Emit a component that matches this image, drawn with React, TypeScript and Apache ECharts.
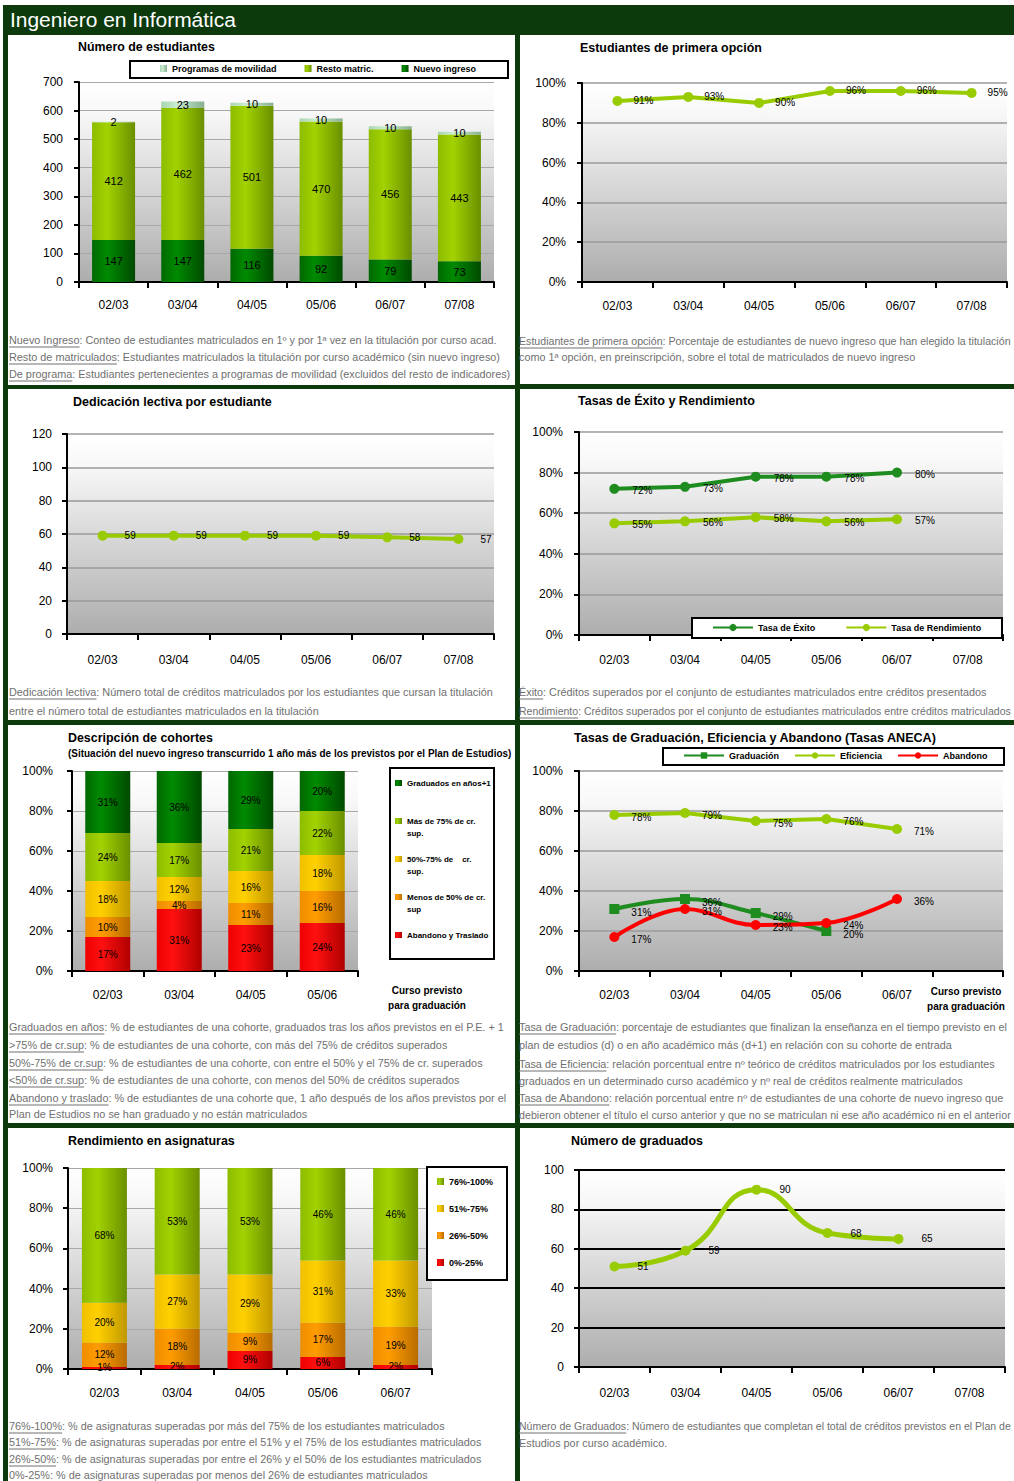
import React, { useEffect, useRef } from "react";
import * as echarts from "echarts";

const FONT = "'Liberation Sans', Arial, Helvetica, sans-serif";
const DARK = "#0c3a0c";
const NOTE_GRAY = "#707070";

// ---------- DATA ----------
const YEARS6 = ["02/03", "03/04", "04/05", "05/06", "06/07", "07/08"];
const YEARS5 = ["02/03", "03/04", "04/05", "05/06", "06/07"];
const COHORTES = ["02/03", "03/04", "04/05", "05/06"];
const CURSOS6 = ["02/03", "03/04", "04/05", "05/06", "06/07", ""];

// Número de estudiantes
const NUEVO_INGRESO = [147, 147, 116, 92, 79, 73];
const RESTO_MATRIC = [412, 462, 501, 470, 456, 443];
const MOVILIDAD = [2, 23, 10, 10, 10, 10];
// Estudiantes de primera opción (%)
const PRIMERA_OPCION = [91, 93, 90, 96, 96, 95];
// Dedicación lectiva
const DEDICACION = [59, 59, 59, 59, 58, 57];
// Tasas de éxito y rendimiento (%)
const EXITO = [72, 73, 78, 78, 80];
const RENDIMIENTO = [55, 56, 58, 56, 57];
// Descripción de cohortes (%)
const ABANDONO_TRASLADO = [17, 31, 23, 24];
const MENOS_50 = [10, 4, 11, 16];
const ENTRE_50_75 = [18, 12, 16, 18];
const MAS_75 = [24, 17, 21, 22];
const GRADUADOS_A1 = [31, 36, 29, 20];
// Tasas ANECA (%)
const GRADUACION = [31, 36, 29, 20];
const EFICIENCIA = [78, 79, 75, 76, 71];
const ABANDONO = [17, 31, 23, 24, 36];
// Rendimiento en asignaturas (%)
const R_0_25 = [1, 2, 9, 6, 2];
const R_26_50 = [12, 18, 9, 17, 19];
const R_51_75 = [20, 27, 29, 31, 33];
const R_76_100 = [68, 53, 53, 46, 46];
// Número de graduados
const GRADUADOS = [51, 59, 90, 68, 65];

// ---------- TEXTS ----------
const MAIN_TITLE = "Ingeniero en Informática";
const TITLES = [
  "Número de estudiantes",
  "Estudiantes de primera opción",
  "Dedicación lectiva por estudiante",
  "Tasas de Éxito y Rendimiento",
  "Descripción de cohortes",
  "Tasas de Graduación, Eficiencia y Abandono (Tasas ANECA)",
  "Rendimiento en asignaturas",
  "Número de graduados",
];
const SUBTITLE_5 = "(Situación del nuevo ingreso transcurrido 1 año más de los previstos por el Plan de Estudios)";
const CURSO_PREVISTO = ["Curso previsto", "para graduación"];

const LEG1 = ["Programas de movilidad", "Resto matric.", "Nuevo ingreso"];
const LEG4 = ["Tasa de Éxito", "Tasa de Rendimiento"];
const LEG5 = ["Graduados en años+1", "Más de 75% de cr. sup.", "50%-75% de cr. sup.", "Menos de 50% de cr. sup", "Abandono y Traslado"];
const LEG5_LINES: Record<string, string[]> = {
  "Graduados en años+1": ["Graduados en años+1"],
  "Más de 75% de cr. sup.": ["Más de 75% de cr.", "sup."],
  "50%-75% de cr. sup.": ["50%-75% de    cr.", "sup."],
  "Menos de 50% de cr. sup": ["Menos de 50% de cr.", "sup"],
  "Abandono y Traslado": ["Abandono y Traslado"],
};
const LEG6 = ["Graduación", "Eficiencia", "Abandono"];
const LEG7 = ["76%-100%", "51%-75%", "26%-50%", "0%-25%"];

const NOTES_1 = [
  ["Nuevo Ingreso", ": Conteo de estudiantes matriculados en 1º y por 1ª vez en la titulación por curso acad."],
  ["Resto de matriculados", ": Estudiantes matriculados la titulación por curso académico (sin nuevo ingreso)"],
  ["De programa", ": Estudiantes pertenecientes a programas de movilidad (excluidos del resto de indicadores)"],
];
const NOTES_2 = [
  ["Estudiantes de primera opción", ": Porcentaje de estudiantes de nuevo ingreso que han elegido la titulación"],
  ["", "como 1ª opción, en preinscripción, sobre el total de matriculados de nuevo ingreso"],
];
const NOTES_3 = [
  ["Dedicación lectiva", ": Número total de créditos matriculados por los estudiantes que cursan la titulación"],
  ["", "entre el número total de estudiantes matriculados en la titulación"],
];
const NOTES_4 = [
  ["Éxito", ": Créditos superados por el conjunto de estudiantes matriculados entre créditos presentados"],
  ["Rendimiento", ": Créditos superados por el conjunto de estudiantes matriculados entre créditos matriculados"],
];
const NOTES_5 = [
  ["Graduados en años", ": % de estudiantes de una cohorte, graduados tras los años previstos en el P.E. + 1"],
  [">75% de cr.sup", ": % de estudiantes de una cohorte, con más del 75% de créditos superados"],
  ["50%-75% de cr.sup", ": % de estudiantes de una cohorte, con entre el 50% y el 75% de cr. superados"],
  ["<50% de cr.sup", ": % de estudiantes de una cohorte, con menos del 50% de créditos superados"],
  ["Abandono y traslado", ": % de estudiantes de una cohorte que, 1 año después de los años previstos por el"],
  ["", "Plan de Estudios no se han graduado y no están matriculados"],
];
const NOTES_6 = [
  ["Tasa de Graduación", ": porcentaje de estudiantes que finalizan la enseñanza en el tiempo previsto en el"],
  ["", "plan de estudios (d) o en año académico más (d+1) en relación con su cohorte de entrada"],
  ["Tasa de Eficiencia", ": relación porcentual entre nº teórico de créditos matriculados por los estudiantes"],
  ["", "graduados en un determinado curso académico y nº real de créditos realmente matriculados"],
  ["Tasa de Abandono", ": relación porcentual entre nº de estudiantes de una cohorte de nuevo ingreso que"],
  ["", "debieron obtener el título el curso anterior y que no se matriculan ni ese año académico ni en el anterior"],
];
const NOTES_7 = [
  ["76%-100%", ": % de asignaturas superadas por más del 75% de los estudiantes matriculados"],
  ["51%-75%", ": % de asignaturas superadas por entre el 51% y el 75% de los estudiantes matriculados"],
  ["26%-50%", ": % de asignaturas superadas por entre el 26% y el 50% de los estudiantes matriculados"],
  ["0%-25%", ": % de asignaturas superadas por menos del 26% de estudiantes matriculados"],
];
const NOTES_8 = [
  ["Número de Graduados", ": Número de estudiantes que completan el total de créditos previstos en el Plan de"],
  ["", "Estudios por curso académico."],
];

// ---------- helpers ----------
let measureCtx: CanvasRenderingContext2D | null = null;
function textWidth(t: string, font: string): number {
  if (!measureCtx) measureCtx = document.createElement("canvas").getContext("2d");
  if (!measureCtx) return t.length * 5;
  measureCtx.font = font;
  return measureCtx.measureText(t).width;
}

function hGrad(l: string, m: string, r: string) {
  return new echarts.graphic.LinearGradient(0, 0, 1, 0, [
    { offset: 0, color: l },
    { offset: 0.35, color: m },
    { offset: 1, color: r },
  ]);
}
function plotBg() {
  return new echarts.graphic.LinearGradient(0, 0, 0, 1, [
    { offset: 0, color: "#ffffff" },
    { offset: 0.15, color: "#f8f8f8" },
    { offset: 1, color: "#adadad" },
  ]);
}

function buildOption() {
  const C_DKGREEN = hGrad("#006800", "#008a00", "#004a00");
  const C_LTGREEN = hGrad("#8cbc00", "#a2d200", "#6a8f00");
  const C_MINT = hGrad("#a8d4b0", "#c8ecd0", "#88b090");
  const C_YELLOW = hGrad("#f0c000", "#ffd000", "#c09800");
  const C_ORANGE = hGrad("#ee8e00", "#ff9c00", "#b86c00");
  const C_RED = hGrad("#ee0000", "#ff1010", "#b00000");
  const LINE_LIGHT = "#99cc00";
  const LINE_GREEN = "#1e8c1e";
  const LINE_RED = "#ff0000";

  const grids = [
    { left: 79, top: 82, width: 415, height: 200 },
    { left: 582, top: 83, width: 425, height: 199 },
    { left: 67, top: 434, width: 427, height: 200 },
    { left: 579, top: 432, width: 424, height: 203 },
    { left: 72, top: 771, width: 286, height: 200 },
    { left: 579, top: 771, width: 424, height: 200 },
    { left: 68, top: 1168, width: 364, height: 201 },
    { left: 579, top: 1170, width: 426, height: 197 },
  ].map((g) => ({ ...g, show: true, backgroundColor: plotBg(), borderWidth: 0, containLabel: false }));

  const xAx = (gi: number, data: string[], margin: number) => ({
    type: "category",
    gridIndex: gi,
    data,
    axisLine: { show: true, lineStyle: { color: "#000", width: 2 } },
    axisTick: { show: true, length: 6, lineStyle: { color: "#000", width: 2 } },
    axisLabel: { color: "#000", fontSize: 12, fontFamily: FONT, margin },
    splitLine: { show: false },
  });
  const yAx = (gi: number, max: number, interval: number, pct: boolean, margin: number, split = "#9a9a9a", sw = 1) => ({
    type: "value",
    gridIndex: gi,
    min: 0,
    max,
    interval,
    axisLine: { show: true, lineStyle: { color: "#000", width: 2 } },
    axisTick: { show: true, length: 5, lineStyle: { color: "#000", width: 2 } },
    axisLabel: { color: "#000", fontSize: 12, fontFamily: FONT, margin, formatter: pct ? "{value}%" : "{value}" },
    splitLine: { show: true, lineStyle: { color: split, width: sw } },
  });

  const xAxis = [
    xAx(0, YEARS6, 17),
    xAx(1, YEARS6, 18),
    xAx(2, YEARS6, 20),
    xAx(3, YEARS6, 19),
    xAx(4, COHORTES, 18),
    xAx(5, CURSOS6, 18),
    xAx(6, YEARS5, 18),
    xAx(7, YEARS6, 20),
  ];
  const yAxis = [
    yAx(0, 700, 100, false, 16, "#a8a8a8"),
    yAx(1, 100, 20, true, 16, "#9a9a9a", 1.5),
    yAx(2, 120, 20, false, 15, "#9a9a9a", 1.5),
    yAx(3, 100, 20, true, 16, "#9a9a9a", 1.5),
    yAx(4, 100, 20, true, 19, "#a8a8a8"),
    yAx(5, 100, 20, true, 16, "#9a9a9a", 1.5),
    yAx(6, 100, 20, true, 15, "#a8a8a8"),
    yAx(7, 100, 20, false, 15, "#000", 2),
  ];

  const lbl = (fs: number, pct: boolean) => ({
    show: true,
    position: "inside",
    color: "#000",
    fontSize: fs,
    fontFamily: FONT,
    formatter: pct ? "{c}%" : "{c}",
  });
  const bar = (name: string, idx: number, data: number[], color: any, stack: string, barWidth: number, pct: boolean, fs = 10) => ({
    type: "bar",
    name,
    xAxisIndex: idx,
    yAxisIndex: idx,
    data,
    stack,
    barWidth,
    itemStyle: { color },
    label: lbl(fs, pct),
    emphasis: { disabled: true },
  });
  const line = (
    name: string,
    idx: number,
    data: number[],
    color: string,
    opts: { pct?: boolean; dist?: number; smooth?: any; symbol?: string; width?: number; size?: number; dy?: number } = {}
  ) => ({
    type: "line",
    name,
    xAxisIndex: idx,
    yAxisIndex: idx,
    data,
    smooth: opts.smooth ?? false,
    symbol: opts.symbol ?? "circle",
    symbolSize: opts.size ?? 10,
    lineStyle: { color, width: opts.width ?? 4 },
    itemStyle: { color },
    label: {
      show: true,
      position: "right",
      distance: opts.dist ?? 12,
      offset: [0, opts.dy ?? 0],
      color: "#000",
      fontSize: 10,
      fontFamily: FONT,
      formatter: opts.pct ? "{c}%" : "{c}",
    },
    emphasis: { disabled: true },
  });

  const series: any[] = [
    // 1
    bar("Nuevo ingreso", 0, NUEVO_INGRESO, C_DKGREEN, "est", 43, false, 11),
    bar("Resto matric.", 0, RESTO_MATRIC, C_LTGREEN, "est", 43, false, 11),
    bar("Programas de movilidad", 0, MOVILIDAD, C_MINT, "est", 43, false, 11),
    // 2
    line("Primera opción", 1, PRIMERA_OPCION, LINE_LIGHT, { pct: true, dist: 11 }),
    // 3
    line("Dedicación", 2, DEDICACION, LINE_LIGHT, { dist: 17 }),
    // 4
    line("Tasa de Éxito", 3, EXITO, LINE_GREEN, { pct: true, dist: 13, dy: 2 }),
    line("Tasa de Rendimiento", 3, RENDIMIENTO, LINE_LIGHT, { pct: true, dist: 13, dy: 1 }),
    // 5
    bar("Abandono y Traslado", 4, ABANDONO_TRASLADO, C_RED, "coh", 45, true),
    bar("Menos de 50% de cr. sup", 4, MENOS_50, C_ORANGE, "coh", 45, true),
    bar("50%-75% de cr. sup.", 4, ENTRE_50_75, C_YELLOW, "coh", 45, true),
    bar("Más de 75% de cr. sup.", 4, MAS_75, C_LTGREEN, "coh", 45, true),
    bar("Graduados en años+1", 4, GRADUADOS_A1, C_DKGREEN, "coh", 45, true),
    // 6
    line("Graduación", 5, GRADUACION, LINE_GREEN, { pct: true, dist: 12, dy: 3, smooth: 0.4, symbol: "rect" }),
    line("Eficiencia", 5, EFICIENCIA, LINE_LIGHT, { pct: true, dist: 12, dy: 2 }),
    line("Abandono", 5, ABANDONO, LINE_RED, { pct: true, dist: 12, dy: 2, smooth: 0.4 }),
    // 7
    bar("0%-25%", 6, R_0_25, C_RED, "asig", 45, true),
    bar("26%-50%", 6, R_26_50, C_ORANGE, "asig", 45, true),
    bar("51%-75%", 6, R_51_75, C_YELLOW, "asig", 45, true),
    bar("76%-100%", 6, R_76_100, C_LTGREEN, "asig", 45, true),
    // 8
    line("Graduados", 7, GRADUADOS, LINE_LIGHT, { dist: 18, smooth: 0.5, width: 5 }),
  ];

  const legText = (fs: number) => ({ color: "#000", fontSize: fs, fontWeight: "bold", fontFamily: FONT });
  const legend = [
    {
      data: LEG1, orient: "horizontal", left: 160, top: 64, padding: 0, itemGap: 28, itemWidth: 7, itemHeight: 7,
      icon: "rect", selectedMode: false, textStyle: legText(9),
    },
    {
      data: LEG4, orient: "horizontal", left: 712, top: 623, padding: 0, itemGap: 30, itemWidth: 40, itemHeight: 9,
      selectedMode: false, textStyle: legText(9),
    },
    {
      data: LEG5, orient: "vertical", left: 395, top: 765, padding: 0, itemGap: 2, itemWidth: 7, itemHeight: 6,
      icon: "rect", selectedMode: false, textStyle: { ...legText(8), lineHeight: 12 },
      formatter: (n: string) => {
        const l = LEG5_LINES[n] || [n];
        return " \n" + l[0] + "\n" + (l[1] || " ");
      },
    },
    {
      data: LEG6, orient: "horizontal", left: 683, top: 751, padding: 0, itemGap: 15, itemWidth: 40, itemHeight: 8,
      selectedMode: false, textStyle: legText(9),
    },
    {
      data: LEG7, orient: "vertical", left: 437, top: 1177, padding: 0, itemGap: 18, itemWidth: 7, itemHeight: 7,
      icon: "rect", selectedMode: false, textStyle: legText(9),
    },
  ];

  // ---------- graphic ----------
  const els: any[] = [];
  els.push({ type: "rect", z: -10, shape: { x: 3, y: 5, width: 1011, height: 1476 }, style: { fill: DARK } });
  const panels = [
    [8, 35, 507, 350],
    [520, 35, 494, 349],
    [8, 389, 507, 331],
    [520, 389, 494, 331],
    [8, 725, 507, 398],
    [520, 725, 494, 398],
    [8, 1128, 507, 353],
    [520, 1128, 494, 353],
  ];
  panels.forEach(([x, y, w, h]) =>
    els.push({ type: "rect", z: -9, shape: { x, y, width: w, height: h }, style: { fill: "#ffffff" } })
  );

  const fitText = (x: number, y: number, text: string, font: string, width: number, fill: string, z = 5) => {
    const w = textWidth(text, font);
    return {
      type: "text", z, x, y, scaleX: w > 0 ? width / w : 1,
      style: { text, font, fill, verticalAlign: "middle", align: "left" },
    };
  };

  els.push(fitText(10, 20, MAIN_TITLE, `20px ${FONT}`, 226, "#ffffff"));

  const TF = `bold 13px ${FONT}`;
  const titleLayout = [
    [78, 47, 137],
    [580, 47, 182],
    [73, 401, 199],
    [578, 400, 177],
    [68, 737, 145],
    [574, 737, 363],
    [68, 1140, 167],
    [571, 1140, 132],
  ];
  TITLES.forEach((t, i) => {
    const [x, y, w] = titleLayout[i];
    els.push(fitText(x, y, t, TF, w, "#000"));
  });
  els.push(fitText(68, 753, SUBTITLE_5, `bold 10px ${FONT}`, 444, "#000"));

  // Curso previsto labels
  const cpFont = `bold 10px ${FONT}`;
  [
    [427, 990],
    [966, 991],
  ].forEach(([cx, cy]) => {
    CURSO_PREVISTO.forEach((t, k) =>
      els.push({ type: "text", z: 5, x: cx, y: cy + k * 15, style: { text: t, font: cpFont, fill: "#000", align: "center", verticalAlign: "middle" } })
    );
  });

  // legend boxes
  const boxes = [
    [130, 61, 378, 17],
    [692, 618, 310, 20],
    [390, 768, 104, 191],
    [663, 748, 341, 17],
    [427, 1167, 80, 113],
  ];
  boxes.forEach(([x, y, w, h]) =>
    els.push({ type: "rect", z: 3, shape: { x, y, width: w, height: h }, style: { fill: "#ffffff", stroke: "#000", lineWidth: 2 } })
  );

  // notes
  const NF = `10px ${FONT}`;
  const refW = textWidth(NOTES_1[0][0] + NOTES_1[0][1], NF);
  const ns = refW > 0 ? 488 / refW : 1;
  const noteBlocks: [string[][], number, number, number[]][] = [
    [NOTES_1, 9, 512, [341, 358, 375]],
    [NOTES_2, 519, 1011, [342, 358]],
    [NOTES_3, 9, 512, [693, 712]],
    [NOTES_4, 519, 1011, [693, 712]],
    [NOTES_5, 9, 512, [1028, 1046, 1064, 1081, 1099, 1115]],
    [NOTES_6, 519, 1011, [1028, 1046, 1065, 1082, 1099, 1116]],
    [NOTES_7, 9, 512, [1427, 1443, 1460, 1476]],
    [NOTES_8, 519, 1011, [1427, 1444]],
  ];
  noteBlocks.forEach(([lines, x, xEnd, ys]) => {
    lines.forEach(([term, rest], i) => {
      const y = ys[i];
      const full = textWidth(term + rest, NF);
      let s = ns;
      if (full * s > xEnd - x) s = (xEnd - x) / full;
      els.push({
        type: "text", z: 5, x, y, scaleX: s,
        style: { text: term + rest, font: NF, fill: NOTE_GRAY, verticalAlign: "middle", align: "left" },
      });
      if (term) {
        const w = textWidth(term, NF) * s;
        els.push({ type: "line", z: 5, shape: { x1: x, y1: y + 6, x2: x + w, y2: y + 6 }, style: { stroke: NOTE_GRAY, lineWidth: 1 } });
      }
    });
  });

  return {
    animation: false,
    backgroundColor: "#ffffff",
    textStyle: { fontFamily: FONT },
    grid: grids,
    xAxis,
    yAxis,
    legend,
    series,
    graphic: { elements: els },
  };
}

export default function App() {
  const ref = useRef<HTMLDivElement>(null);
  useEffect(() => {
    if (!ref.current) return;
    const chart = echarts.init(ref.current, undefined, { renderer: "svg" });
    chart.setOption(buildOption() as any);
    return () => chart.dispose();
  }, []);
  return <div ref={ref} style={{ position: "absolute", left: 0, top: 0, width: 1014, height: 1481 }} />;
}
